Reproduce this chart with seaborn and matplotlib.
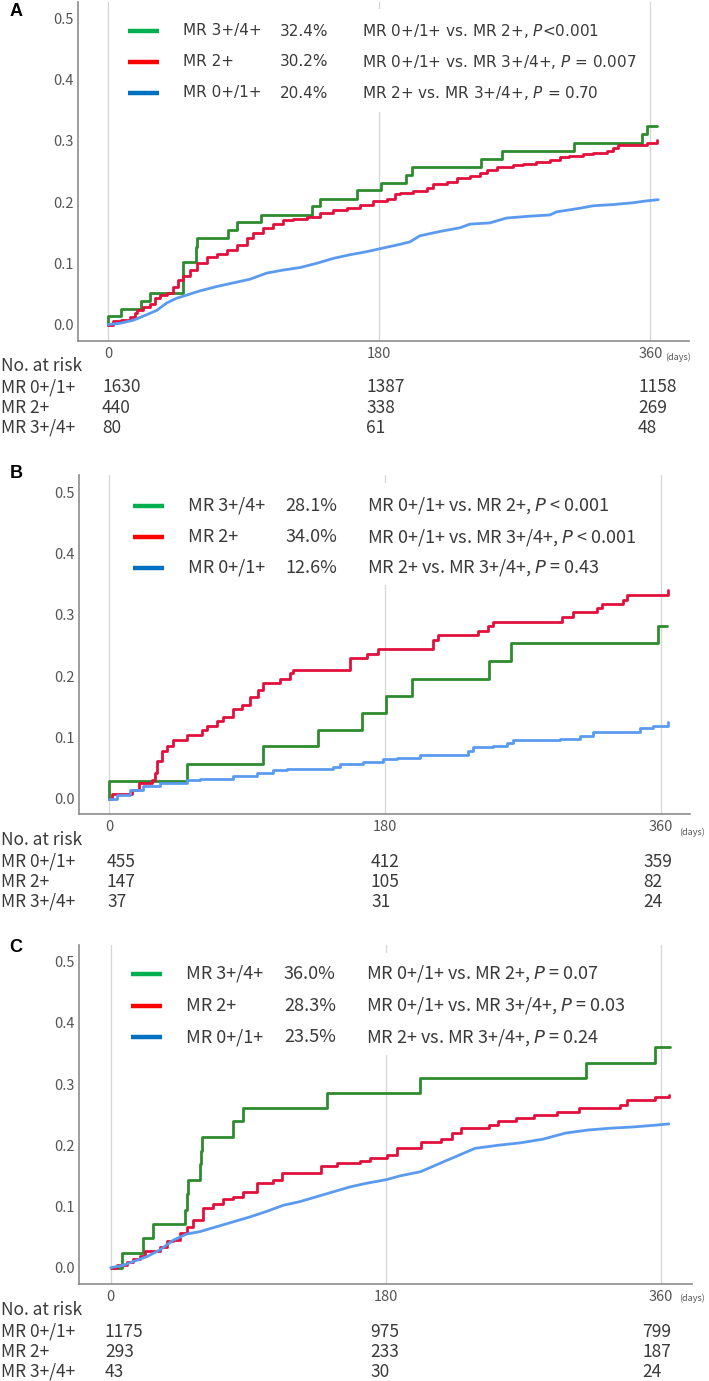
import numpy as np
import pandas as pd
import matplotlib
matplotlib.use("Agg")
import matplotlib.pyplot as plt
from matplotlib.patches import Rectangle
import seaborn as sns

# ---------------- data ----------------
groups = ["MR 3+/4+", "MR 2+", "MR 0+/1+"]
risk_labels = ["MR 0+/1+", "MR 2+", "MR 3+/4+"]
risk_days = [0, 180, 360]
comparisons = ["MR 0+/1+ vs. MR 2+", "MR 0+/1+ vs. MR 3+/4+", "MR 2+ vs. MR 3+/4+"]

# Panel A
A_green_day = [0, 0, 8.2, 21.5, 27.7, 49.4, 58.5, 59.2, 79.7, 85.7, 101.2, 135.5, 140.6, 164.9, 181.1,
               197.7, 201.4, 247.3, 261.6, 309.5, 354.2, 357.5, 364.6]
A_green_val = [0, 0.014, 0.026, 0.039, 0.052, 0.102, 0.127, 0.142, 0.154, 0.167, 0.179, 0.193, 0.205, 0.219,
               0.231, 0.244, 0.258, 0.270, 0.284, 0.297, 0.311, 0.324, 0.324]
A_red_day = [0, 3.3, 8.2, 14.4, 17.7, 19.3, 23.3, 27.7, 31.0, 34.3, 38.7, 43.2, 46.5, 49.8, 54.3, 58.7, 65.3,
             72.0, 78.6, 85.3, 91.9, 96.3, 103.0, 109.6, 116.2, 122.9, 131.7, 140.6, 149.4, 158.3, 167.1,
             176.0, 184.9, 190.4, 193.7, 202.5, 211.4, 215.8, 224.7, 231.3, 240.2, 246.8, 251.2, 257.9,
             268.9, 275.6, 284.4, 293.3, 299.9, 306.3, 315.4, 322.1, 331.0, 335.4, 338.7, 357.5, 364.2]
A_red_val = [0, 0.005, 0.007, 0.012, 0.018, 0.024, 0.028, 0.034, 0.043, 0.048, 0.052, 0.062, 0.073, 0.079,
             0.089, 0.100, 0.111, 0.116, 0.122, 0.130, 0.141, 0.149, 0.157, 0.165, 0.171, 0.173, 0.176,
             0.182, 0.187, 0.191, 0.195, 0.201, 0.205, 0.213, 0.215, 0.218, 0.223, 0.230, 0.233, 0.239,
             0.243, 0.247, 0.252, 0.258, 0.261, 0.263, 0.265, 0.269, 0.273, 0.276, 0.279, 0.281, 0.284,
             0.289, 0.294, 0.297, 0.302]
A_blue_day = [0, 7.8, 16.7, 25.5, 32.1, 38.7, 45.4, 52.0, 60.9, 72.0, 83.0, 94.1, 105.2, 116.2, 127.3,
              138.4, 149.4, 160.5, 171.6, 182.6, 193.7, 200.3, 207.0, 220.2, 233.5, 240.2, 253.4, 264.5,
              280.0, 293.3, 297.7, 313.2, 322.1, 335.4, 348.7, 357.5, 365.3]
A_blue_val = [0, 0.002, 0.007, 0.016, 0.023, 0.035, 0.043, 0.048, 0.055, 0.062, 0.068, 0.074, 0.084, 0.089,
              0.093, 0.100, 0.108, 0.114, 0.119, 0.125, 0.131, 0.135, 0.145, 0.152, 0.158, 0.164, 0.166,
              0.174, 0.177, 0.179, 0.184, 0.190, 0.194, 0.196, 0.199, 0.202, 0.204]
A_pct = ["32.4%", "30.2%", "20.4%"]
A_p = ["<0.001", " = 0.007", " = 0.70"]
A_risk = [[1630, 1387, 1158], [440, 338, 269], [80, 61, 48]]

# Panel B
B_green_day = [0, 0, 50.9, 100.5, 136.0, 164.7, 180.6, 197.8, 247.8, 262.0, 358.0, 364.3]
B_green_val = [0, 0.028, 0.056, 0.085, 0.112, 0.139, 0.168, 0.196, 0.225, 0.254, 0.282, 0.282]
B_red_day = [0, 1.5, 14.6, 19.6, 27.7, 29.8, 30.9, 34.2, 37.4, 41.8, 50.5, 60.3, 63.5, 70.1, 74.4, 81.0,
             86.4, 91.8, 97.3, 100.5, 111.4, 117.9, 120.1, 157.1, 168.0, 175.6, 211.5, 214.8, 240.9,
             247.5, 250.7, 295.3, 302.9, 318.1, 321.4, 335.5, 337.7, 364.9]
B_red_val = [0, 0.008, 0.014, 0.025, 0.030, 0.041, 0.062, 0.077, 0.085, 0.096, 0.104, 0.112, 0.119, 0.126,
             0.133, 0.146, 0.153, 0.166, 0.177, 0.188, 0.195, 0.205, 0.210, 0.229, 0.236, 0.244, 0.259,
             0.267, 0.274, 0.282, 0.289, 0.297, 0.304, 0.311, 0.318, 0.325, 0.333, 0.340]
B_blue_day = [0, 4.8, 13.5, 22.2, 33.1, 50.5, 59.2, 81.0, 96.2, 107.1, 115.8, 146.3, 150.6, 165.8, 178.9,
              187.6, 202.8, 234.4, 237.6, 250.7, 259.4, 263.7, 281.1, 294.2, 307.2, 316.0, 337.7, 346.4,
              355.1, 364.9]
B_blue_val = [0, 0.006, 0.014, 0.020, 0.025, 0.030, 0.032, 0.037, 0.041, 0.047, 0.049, 0.052, 0.056, 0.060,
              0.064, 0.066, 0.071, 0.078, 0.084, 0.086, 0.090, 0.095, 0.096, 0.098, 0.102, 0.108, 0.109,
              0.115, 0.119, 0.125]
B_pct = ["28.1%", "34.0%", "12.6%"]
B_p = [" < 0.001", " < 0.001", " = 0.43"]
B_risk = [[455, 412, 359], [147, 105, 82], [37, 31, 24]]

# Panel C
C_green_day = [0, 7.2, 21.3, 27.4, 48.6, 49.7, 50.8, 58.4, 59.1, 59.8, 79.8, 86.3, 141.3, 202.3, 310.9,
               355.9, 365.6]
C_green_val = [0, 0.0245, 0.048, 0.071, 0.094, 0.120, 0.143, 0.170, 0.190, 0.214, 0.239, 0.261, 0.286,
               0.310, 0.334, 0.360, 0.360]
C_red_day = [0, 3.9, 10.4, 14.8, 19.2, 22.4, 32.2, 36.6, 41.0, 45.3, 49.7, 54.0, 60.6, 67.1, 73.7, 80.2,
             86.8, 95.5, 106.4, 111.8, 137.3, 147.8, 163.0, 169.6, 180.5, 187.0, 202.8, 216.0, 223.5,
             229.4, 247.2, 253.1, 265.0, 276.8, 291.6, 306.4, 333.1, 337.5, 355.9, 365.0]
C_red_val = [0, 0.004, 0.010, 0.015, 0.019, 0.028, 0.034, 0.043, 0.046, 0.056, 0.067, 0.078, 0.097, 0.104,
             0.112, 0.116, 0.124, 0.138, 0.143, 0.154, 0.166, 0.171, 0.175, 0.179, 0.184, 0.195, 0.206,
             0.211, 0.220, 0.228, 0.233, 0.239, 0.244, 0.250, 0.255, 0.261, 0.266, 0.274, 0.279, 0.283]
C_blue_day = [0, 8.3, 14.8, 23.5, 32.2, 40.9, 49.7, 58.4, 69.3, 80.2, 91.1, 102.0, 112.9, 123.8, 134.7,
              145.6, 156.5, 167.4, 180.5, 189.2, 202.8, 217.6, 238.3, 253.1, 267.9, 282.7, 297.5, 312.3,
              327.1, 341.9, 356.7, 365.0]
C_blue_val = [0, 0.004, 0.010, 0.018, 0.029, 0.045, 0.055, 0.059, 0.067, 0.075, 0.083, 0.092, 0.102, 0.108,
              0.116, 0.124, 0.132, 0.138, 0.144, 0.150, 0.157, 0.173, 0.195, 0.200, 0.204, 0.210, 0.220,
              0.225, 0.228, 0.230, 0.233, 0.235]
C_pct = ["36.0%", "28.3%", "23.5%"]
C_p = [" = 0.07", " = 0.03", " = 0.24"]
C_risk = [[1175, 975, 799], [293, 233, 187], [43, 30, 24]]

# ---------------- style ----------------
sns.set_style("white")
plt.rcParams["font.family"] = ["Noto Sans CJK JP", "DejaVu Sans"]
plt.rcParams["mathtext.fontset"] = "dejavusans"

W, H = 709, 1381
fig = plt.figure(figsize=(W / 100, H / 100), dpi=100)


def fx(p):
    return p / W


def fy(p):
    return 1 - p / H


TXT = "#3a3a3a"
TICK = "#555555"
CURVE = {"MR 3+/4+": "#2e8b2e", "MR 2+": "#e1103c", "MR 0+/1+": "#5b9bef"}
LEG = {"MR 3+/4+": "#00b050", "MR 2+": "#ff0000", "MR 0+/1+": "#0070c0"}
PPY = 612.0  # pixels per unit of cumulative incidence

panels = [
    dict(letter="A", left=78, right=689, top=2, bottom=341, x0=108.3, ppd=1.5056, y0=324.5,
         box=(112, 9, 645, 112), rows=(31, 62, 93), lx=(128, 159, 183, 280, 362),
         lfont=(["DejaVu Sans"], 11.0), ticky=353, days=(665, 357),
         rrows=(366, 387, 408, 428), rx=(102, 366, 638), lab=(16, 12), blue_steps=False,
         curves=[(A_green_day, A_green_val), (A_red_day, A_red_val), (A_blue_day, A_blue_val)],
         pct=A_pct, p=A_p, risk=A_risk),
    dict(letter="B", left=79, right=690, top=475, bottom=814, x0=109.3, ppd=1.532, y0=798.5,
         box=(115, 483, 656, 585), rows=(506, 537, 568), lx=(133, 164, 188, 285, 367),
         lfont=(["Noto Sans CJK JP", "DejaVu Sans"], 13.0), ticky=828, days=(679, 832),
         rrows=(840, 862, 882, 902), rx=(107, 371, 643), lab=(16, 473), blue_steps=True,
         curves=[(B_green_day, B_green_val), (B_red_day, B_red_val), (B_blue_day, B_blue_val)],
         pct=B_pct, p=B_p, risk=B_risk),
    dict(letter="C", left=79, right=692, top=945, bottom=1284, x0=110.7, ppd=1.529, y0=1267.7,
         box=(115, 953, 656, 1055), rows=(974, 1006, 1037), lx=(131, 162, 186, 284, 366),
         lfont=(["Noto Sans CJK JP", "DejaVu Sans"], 13.0), ticky=1297, days=(679, 1298),
         rrows=(1310, 1332, 1352, 1372), rx=(105, 370, 642), lab=(16, 948), blue_steps=False,
         curves=[(C_green_day, C_green_val), (C_red_day, C_red_val), (C_blue_day, C_blue_val)],
         pct=C_pct, p=C_p, risk=C_risk),
]

for P in panels:
    L, R, T, B = P["left"], P["right"], P["top"], P["bottom"]
    ax = fig.add_axes([fx(L), fy(B), (R - L) / W, (B - T) / H])
    ax.set_xlim((L - P["x0"]) / P["ppd"], (R - P["x0"]) / P["ppd"])
    ax.set_ylim((P["y0"] - B) / PPY, (P["y0"] - T) / PPY)

    for d in risk_days:
        ax.axvline(d, color="#d6d6d6", lw=0.9, zorder=0.5)

    bx0, by0, bx1, by1 = P["box"]
    ax.add_patch(Rectangle((fx(bx0), fy(by1)), (bx1 - bx0) / W, (by1 - by0) / H,
                           transform=fig.transFigure, facecolor="white", edgecolor="none",
                           zorder=1, clip_on=False))

    for g, (days, vals) in zip(groups, P["curves"]):
        df = pd.DataFrame({"day": days, "ci": vals})
        steps = (g != "MR 0+/1+") or P["blue_steps"]
        sns.lineplot(data=df, x="day", y="ci", ax=ax, color=CURVE[g], linewidth=2.0,
                     drawstyle="steps-post" if steps else "default",
                     estimator=None, sort=False, legend=False, zorder=3)

    ax.set_xlabel("")
    ax.set_ylabel("")
    for s in ["top", "right"]:
        ax.spines[s].set_visible(False)
    for s in ["left", "bottom"]:
        ax.spines[s].set_color("#8c8c8c")
        ax.spines[s].set_linewidth(1.2)

    yt = np.round(np.arange(0, 0.51, 0.1), 1)
    ax.set_yticks(yt)
    ax.set_yticklabels([f"{v:.1f}" for v in yt])
    ax.set_xticks(risk_days)
    ax.set_xticklabels([str(d) for d in risk_days])
    ax.tick_params(axis="y", length=0, pad=3, labelsize=10.5, labelcolor=TICK)
    ax.tick_params(axis="x", length=0, pad=4, labelsize=10.5, labelcolor=TICK)

    fig.text(fx(P["days"][0]), fy(P["days"][1]), "(days)", fontsize=6.5, color=TICK,
             ha="left", va="center")

    # legend block
    lx0, lx1, tx, px_, cx = P["lx"]
    fam, fs = P["lfont"]
    for i, g in enumerate(groups):
        yy = fy(P["rows"][i])
        fig.add_artist(plt.Line2D([fx(lx0), fx(lx1)], [yy, yy], color=LEG[g], lw=3.2,
                                  solid_capstyle="butt", transform=fig.transFigure, zorder=5))
        fig.text(fx(tx), yy, g, family=fam, fontsize=fs, color=TXT, ha="left", va="center")
        fig.text(fx(px_), yy, P["pct"][i], family=fam, fontsize=fs, color=TXT, ha="left", va="center")
        fig.text(fx(cx), yy, comparisons[i] + r", $\it{P}$" + P["p"][i], family=fam, fontsize=fs,
                 color=TXT, ha="left", va="center")

    # number at risk table
    fig.text(fx(1), fy(P["rrows"][0]), "No. at risk", fontsize=12.5, color=TXT, ha="left", va="center")
    for r, lab in enumerate(risk_labels):
        yy = fy(P["rrows"][r + 1])
        fig.text(fx(1), yy, lab, fontsize=12.5, color=TXT, ha="left", va="center")
        for c in range(3):
            fig.text(fx(P["rx"][c]), yy, str(P["risk"][r][c]), fontsize=12.5, color=TXT,
                     ha="left", va="center")

    fig.text(fx(P["lab"][0]), fy(P["lab"][1]), P["letter"], family=["Liberation Sans", "DejaVu Sans"],
             fontweight="bold", fontsize=13, color="black", ha="center", va="center")

fig.savefig("out.png", dpi=100)
